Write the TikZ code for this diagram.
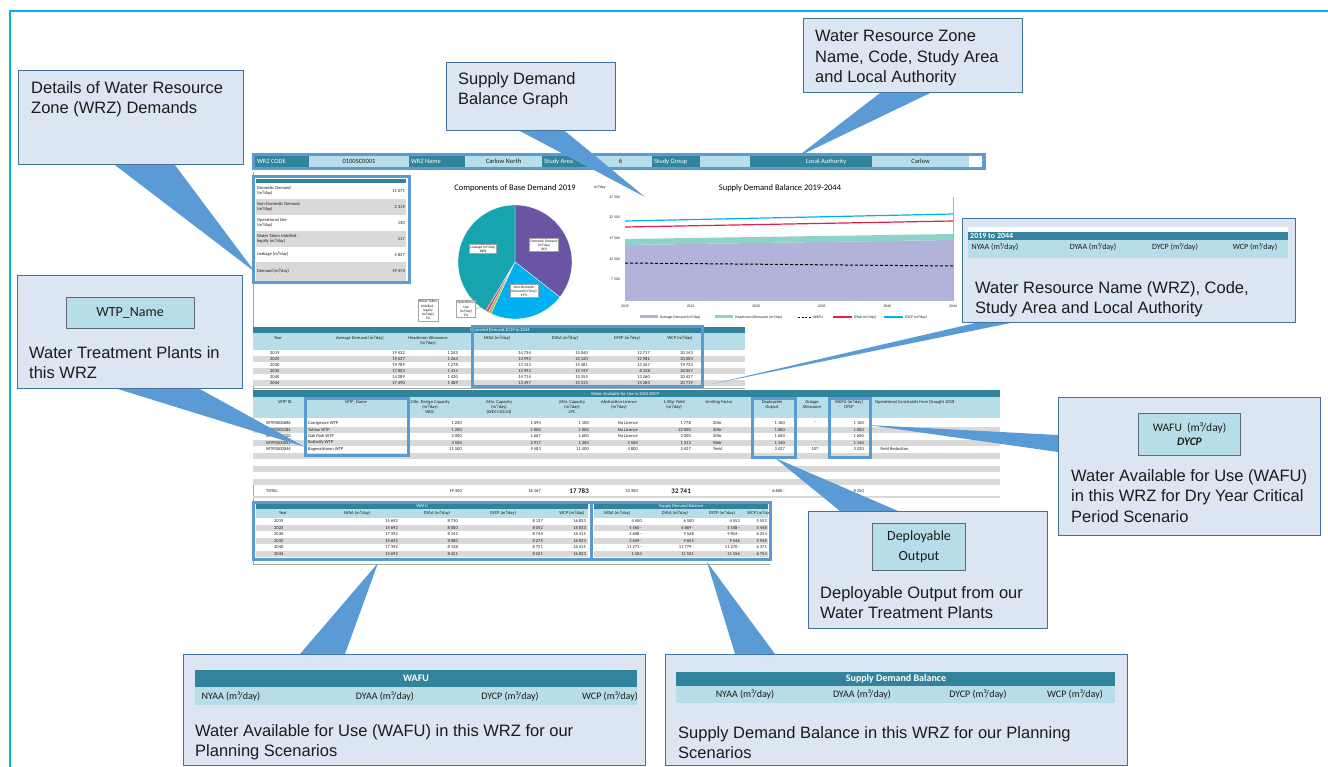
\documentclass[tikz,border=0pt]{standalone}
\usepackage{fontspec}
\setmainfont{Liberation Sans}
\newfontfamily\calib{Carlito}
\usetikzlibrary{positioning}
\definecolor{framecyan}{HTML}{00B0F0}
\definecolor{callfill}{HTML}{DCE6F2}
\definecolor{callline}{HTML}{41719C}
\definecolor{pointblue}{HTML}{5B9BD5}
\definecolor{tealdark}{HTML}{31849B}
\definecolor{tealpale}{HTML}{B7DEE8}
\definecolor{rowgrey}{HTML}{D9D9D9}
\definecolor{ink}{HTML}{1B1B1B}
\definecolor{tagline}{HTML}{5A6A78}
\definecolor{piepurple}{HTML}{6A55A5}
\definecolor{pieblue}{HTML}{00B0F0}
\definecolor{pieteal}{HTML}{16A5AF}
\definecolor{piegreen}{HTML}{8DC63F}
\definecolor{piepink}{HTML}{E63E7A}
\definecolor{areapurple}{HTML}{B1B3DB}
\definecolor{areateal}{HTML}{8ED3CB}
\definecolor{linered}{HTML}{E0204A}
\newcommand{\sheetfont}{\calib\fontsize{4.5}{5}\selectfont}
\newcommand{\tagfont}{\calib\fontsize{14}{20}\selectfont}
\tikzset{
  callbox/.style={draw=callline, fill=callfill, line width=1.1pt, inner sep=0pt, anchor=north west},
  calltext/.style={align=left, inner sep=0pt, text=ink, font=\fontsize{16.5}{20.5}\selectfont},
  tagbox/.style={draw=tagline, fill=tealpale, line width=0.9pt, inner sep=0pt, align=center, text=ink},
  pointer/.style={fill=pointblue},
  hilite/.style={draw=pointblue, line width=3pt},
  sheettext/.style={inner sep=0pt, align=center, text=ink, font=\sheetfont},
  headtext/.style={inner sep=0pt, align=center, text=ink, font=\calib\fontsize{10}{12}\selectfont},
  pielabel/.style={draw=gray!70, fill=white, line width=0.3pt, inner sep=1pt, align=center, text=ink, font=\calib\fontsize{3.6}{4.2}\selectfont},
}

\begin{document}
\begin{tikzpicture}[x=1pt,y=-1pt]
\useasboundingbox (0,0) rectangle (1328,767);
\draw[framecyan, line width=2pt] (10,767) -- (10,11) -- (1328,11);

% ---- the sheet ----
\draw[gray!70, line width=0.8pt] (253,172) -- (253,564) -- (770,564);

% WRZ strip
\fill[pointblue] (252,153) rectangle (986,170);
\fill[white] (969,156) rectangle (982,167);
\foreach \xa/\xb/\xt/\txt in {255/309/257/WRZ CODE, 409/465/411/WRZ Name, 542/589/544/Study Area, 652/700/654/Study Group, 750/872/806/Local Authority}{
  \fill[tealdark] (\xa,156) rectangle (\xb,167);
  \node[sheettext, text=white, anchor=west, font=\calib\fontsize{6.5}{7}\selectfont] (top-\xa) at (\xt,161.5) {\txt};
}
\foreach \xa/\xb/\txt in {309/409/0100SC0001, 465/542/Carlow North, 589/652/6, 700/750/{}, 872/969/Carlow}{
  \fill[tealpale] (\xa,156) rectangle (\xb,167);
  \pgfmathsetmacro{\xm}{(\xa+\xb)/2}
  \node[sheettext, font=\calib\fontsize{6.5}{7}\selectfont] (top-\xa) at (\xm,161.5) {\txt};
}

% demands
\fill[white] (253,177) rectangle (409,283);
\fill[tealdark] (256,179) rectangle (406,183);
\foreach \ya/\yb/\col/\lbl/\val in {183/199/white/{Domestic Demand\\(m³/day)}/{11 071}, 199/215/rowgrey/{Non-Domestic Demand\\(m³/day)}/{2 319}, 215/231/white/{Operational Use\\(m³/day)}/130, 231/247/rowgrey/{Water Taken Unbilled -\\legally (m³/day)}/117, 247/262/white/{Leakage (m³/day)}/{5 837}, 262/281/rowgrey/{Demand (m³/day)}/{19 474}}{
  \fill[\col] (256,\ya) rectangle (406,\yb);
  \node[sheettext, anchor=west, align=left] (dm-\ya) at (257,\ya/2+\yb/2) {\lbl};
  \node[sheettext, anchor=east] (dv-\ya) at (405,\ya/2+\yb/2) {\val};
}
\draw[hilite] (253,177) rectangle (409,283);

% pie
\node[inner sep=0pt, font=\calib\fontsize{8.5}{10}\selectfont] (pie-title) at (515,188) {Components of Base Demand 2019};
\begin{scope}[shift={(515,262)}]
  \def\pr{57}
  \foreach \a/\b/\col in {-90/38/piepurple, 38/115/pieblue, 115/118/piegreen, 118/121/piepink, 121/270/pieteal}
    \fill[\col, draw=white, line width=0.3pt] (0,0) -- (\a:\pr) arc[start angle=\a, end angle=\b, radius=\pr] -- cycle;
\end{scope}
\node[pielabel] (pie-dom) at (544,245) {Domestic Demand\\(m³/day)\\36\%};
\node[pielabel] (pie-leak) at (483,249) {Leakage (m³/day)\\\textbf{42\%}};
\node[pielabel] (pie-ndom) at (524,291) {Non-Domestic\\Demand (m³/day)\\19\%};
\node[pielabel] (pie-wtu) at (428,310) {Water Taken\\Unbilled -\\legally\\(m³/day)\\1\%};
\node[pielabel] (pie-opu) at (466,309) {Operational\\Use\\(m³/day)\\1\%};
\coordinate (pie-op) at (492,303);
\draw[gray, line width=0.3pt] (pie-opu.east) -- (pie-op);

% supply demand chart
\node[inner sep=0pt, font=\calib\fontsize{8.5}{10}\selectfont] (ch-title) at (780,188) {Supply Demand Balance 2019-2044};
\node[sheettext, font=\calib\fontsize{4}{4.5}\selectfont] (ch-unit) at (600,187) {m³/day};
\fill[areapurple] (625,301) -- (625,245) -- (953,240) -- (953,301) -- cycle;
\fill[areateal] (625,245) -- (953,240) -- (953,234) -- (625,239) -- cycle;
\draw[black, line width=1pt, dash pattern=on 3pt off 2pt] (625,263) -- (953,266);
\draw[linered, line width=1.2pt] (625,227) -- (953,221);
\draw[pieblue, line width=1.2pt] (625,221) -- (953,214);
\draw[gray!60, line width=0.5pt] (953,197) -- (953,301);
\foreach \i/\lab in {0/{27 500}, 1/{22 500}, 2/{17 500}, 3/{12 500}, 4/{7 500}}
  \node[sheettext, anchor=east, font=\calib\fontsize{3.8}{4}\selectfont] (ch-y\i) at (620,197+\i*20.6) {\lab};
\foreach \i/\yr in {0/2019, 1/2025, 2/2030, 3/2035, 4/2040, 5/2044}
  \node[sheettext, anchor=north, font=\calib\fontsize{3.8}{4}\selectfont] (ch-x\i) at (625+\i*65.6,305) {\yr};
\foreach \xa/\xb/\col/\txt in {640/658/areapurple/{Average Demand (m³/day)}, 715/733/areateal/{Headroom Allowance (m³/day)}}{
  \fill[\col] (\xa,315.5) rectangle (\xb,318.5);
  \node[sheettext, anchor=west, font=\calib\fontsize{3.8}{4}\selectfont] (lg-\xa) at (\xb+2,317) {\txt};
}
\draw[black, line width=0.9pt, dash pattern=on 2pt off 1.5pt] (798,317) -- (811,317);
\node[sheettext, anchor=west, font=\calib\fontsize{3.8}{4}\selectfont] (lg-wafu) at (813,317) {WAFU};
\draw[linered, line width=1.2pt] (833,317) -- (852,317);
\node[sheettext, anchor=west, font=\calib\fontsize{3.8}{4}\selectfont] (lg-dyaa) at (854,317) {DYAA (m³/day)};
\draw[pieblue, line width=1.2pt] (884,317) -- (903,317);
\node[sheettext, anchor=west, font=\calib\fontsize{3.8}{4}\selectfont] (lg-dycp) at (905,317) {DYCP (m³/day)};

% projected demand
\fill[tealdark] (253,327) rectangle (745,333);
\node[sheettext, text=white] (pd-title) at (500,330) {Projected Demand 2019 to 2044};
\fill[tealpale] (253,333) rectangle (745,350);
\foreach \x/\txt in {278/Year, 360/{Average Demand (m³/day)}, 428/{Headroom Allowance\\(m³/day)}, 497/{NYAA (m³/day)}, 565/{DYAA (m³/day)}, 627/{DYCP (m³/day)}, 680/{WCP (m³/day)}}
  \node[sheettext, anchor=north] (pd-h\x) at (\x,336) {\txt};
\foreach \i/\col/\yr/\va/\vb/\vc/\vd/\ve/\vf in {0/white/2019/{19 432}/{1 243}/{14 734}/{15 040}/{12 717}/{20 143}, 1/rowgrey/2025/{19 627}/{1 264}/{13 993}/{15 120}/{12 981}/{20 004}, 2/white/2030/{19 789}/{1 278}/{13 133}/{15 481}/{13 267}/{19 733}, 3/rowgrey/2035/{17 003}/{1 414}/{13 993}/{15 749}/{8 128}/{20 057}, 4/white/2040/{14 289}/{1 420}/{14 714}/{15 555}/{13 260}/{20 427}, 5/rowgrey/2044/{17 490}/{1 489}/{13 497}/{15 315}/{14 284}/{20 719}}{
  \pgfmathsetmacro{\ry}{350+\i*6}
  \fill[\col] (253,\ry) rectangle (745,\ry+6);
  \node[sheettext, anchor=west] (pd-y\i) at (270,\ry+3) {\yr};
  \node[sheettext, anchor=east] (pd-a\i) at (405,\ry+3) {\va};
  \node[sheettext, anchor=east] (pd-b\i) at (458,\ry+3) {\vb};
  \node[sheettext, anchor=east] (pd-c\i) at (531,\ry+3) {\vc};
  \node[sheettext, anchor=east] (pd-d\i) at (588,\ry+3) {\vd};
  \node[sheettext, anchor=east] (pd-e\i) at (650,\ry+3) {\ve};
  \node[sheettext, anchor=east] (pd-f\i) at (693,\ry+3) {\vf};
}
\draw[gray!70, line width=0.8pt] (253,388) -- (745,388);
\draw[hilite] (472,327) rectangle (702,386);

% water available
\fill[tealdark] (253,390) rectangle (1000,397);
\node[sheettext, text=white] (wa-title) at (625,393.5) {Water Available for Use in 2044 DYCP};
\fill[tealpale] (253,397) rectangle (1000,418);
\foreach \x/\txt in {285/WTP ID, 356/WTP\_Name, 430/{24hr. Design Capacity\\(m³/day)\\WDC}, 499/{24hr. Capacity\\(m³/day)\\(WDC×20/24)}, 572/{24hr. Capacity\\(m³/day)\\LPC}, 619/{Abstraction Licence\\(m³/day)}, 674/{1:50yr Yield\\(m³/day)}, 719/Limiting Factor, 772/{Deployable\\Output}, 812/{Outage\\Allowance}, 849/{WAFU (m³/day)\\DYCP}}
  \node[sheettext, anchor=north] (wa-h\x) at (\x,400) {\txt};
\node[sheettext, anchor=north west] (wa-hop) at (875,400) {Operational Constraints from Drought 2018};
\foreach \i/\col/\id/\nme/\dc/\ca/\cb/\lic/\yld/\lim/\dpo/\out/\waf/\opc in {0/white/WTP0000686/Carrigmore WTP/{1 200}/{1 094}/{1 100}/No Licence/{1 778}/20hr/{1 100}/-/{1 100}/{}, 1/rowgrey/WTP0000184/Tullow WTP/{1 200}/{1 000}/{1 000}/No Licence/{22 000}/20hr/{1 000}/{}/{1 000}/{}, 2/white/WTP0000220/Oak Park WTP/{2 000}/{1 667}/{1 600}/No Licence/{2 000}/20hr/{1 600}/{}/{1 600}/{}, 3/rowgrey/WTP0000053/Rathvilly WTP/{3 500}/{2 917}/{1 200}/{5 500}/{1 313}/Weir/{1 140}/-/{1 140}/{}, 4/white/WTP0000044/Bagenalstown WTP/{11 500}/{9 583}/{11 500}/{4 800}/{3 427}/Yield/{3 427}/107/{3 320}/Yield Reduction}{
  \pgfmathsetmacro{\ry}{420+\i*6.5}
  \fill[\col] (253,\ry) rectangle (1000,\ry+6.5);
  \node[sheettext, anchor=west] (wa-id\i) at (266,\ry+3.25) {\id};
  \node[sheettext, anchor=west] (wa-nm\i) at (308,\ry+3.25) {\nme};
  \node[sheettext, anchor=east] (wa-dc\i) at (462,\ry+3.25) {\dc};
  \node[sheettext, anchor=east] (wa-ca\i) at (541,\ry+3.25) {\ca};
  \node[sheettext, anchor=east] (wa-cb\i) at (589,\ry+3.25) {\cb};
  \node[sheettext, anchor=east] (wa-li\i) at (638,\ry+3.25) {\lic};
  \node[sheettext, anchor=east] (wa-yd\i) at (691,\ry+3.25) {\yld};
  \node[sheettext, anchor=west] (wa-lf\i) at (713,\ry+3.25) {\lim};
  \node[sheettext, anchor=east] (wa-do\i) at (785,\ry+3.25) {\dpo};
  \node[sheettext] (wa-ou\i) at (815,\ry+3.25) {\out};
  \node[sheettext, anchor=east] (wa-wf\i) at (864,\ry+3.25) {\waf};
  \node[sheettext, anchor=west] (wa-op\i) at (880,\ry+3.25) {\opc};
}
\foreach \i/\col in {5/rowgrey, 6/white, 7/rowgrey, 8/white, 9/rowgrey}{
  \pgfmathsetmacro{\ry}{420+\i*6.5}
  \fill[\col] (253,\ry) rectangle (1000,\ry+6.5);
}
\fill[rowgrey] (253,496) rectangle (1000,498);
\node[sheettext, anchor=west] (wa-tot) at (266,491) {TOTAL};
\node[sheettext, anchor=east] (wa-tdc) at (462,491) {19 400};
\node[sheettext, anchor=east] (wa-tca) at (541,491) {16 167};
\node[sheettext, anchor=east, font=\calib\bfseries\fontsize{7}{7}\selectfont] (wa-tcb) at (589,491) {17 783};
\node[sheettext, anchor=east] (wa-tli) at (638,491) {33 300};
\node[sheettext, anchor=east, font=\calib\bfseries\fontsize{7}{7}\selectfont] (wa-tyd) at (691,491) {32 741};
\node[sheettext, anchor=east] (wa-tdo) at (785,491) {6 600 -};
\node[sheettext, anchor=east] (wa-twf) at (864,491) {8 250};
\draw[hilite] (305,398) rectangle (408,455);
\draw[hilite] (752,398) rectangle (795,457);
\draw[hilite] (829,398) rectangle (870,457);

% WAFU and supply demand balance tables
\foreach \xa/\xb/\nm/\ttl in {256/588/wf/WAFU, 594/768/sd/Supply Demand Balance}{
  \fill[white] (\xa,504) rectangle (\xb,557);
  \fill[tealdark] (\xa,504) rectangle (\xb,509);
  \node[sheettext, text=white] (\nm-title) at (\xa/2+\xb/2,506.5) {\ttl};
  \fill[tealpale] (\xa,509) rectangle (\xb,518);
  \foreach \i/\col in {1/rowgrey, 3/rowgrey, 5/rowgrey}
    \fill[\col] (\xa,518+\i*6.5) rectangle (\xb,524.5+\i*6.5);
}
\foreach \x/\txt in {283/Year, 357/{NYAA (m³/day)}, 437/{DYAA (m³/day)}, 503/{DYCP (m³/day)}, 572/{WCP (m³/day)}}
  \node[sheettext] (wf-h\x) at (\x,513.5) {\txt};
\foreach \x/\txt in {617/{NYAA (m³/day)}, 675/{DYAA (m³/day)}, 722/{DYCP (m³/day)}, 760/{WCP (m³/day)}}
  \node[sheettext] (sd-h\x) at (\x,513.5) {\txt};
\foreach \i/\yr/\na/\da/\dc/\wc/\sa/\sb/\sc/\sw in {0/2019/{15 692}/{8 730}/{8 137}/{16 833}/{4 500}/{6 500}/{4 553}/{5 553}, 1/2025/{15 692}/{8 000}/{8 052}/{16 833}/{4 560 -}/{6 869 -}/{4 548 -}/{5 448}, 2/2030/{17 392}/{8 142}/{8 744}/{16 415}/{4 608 -}/{9 548}/{9 854 -}/{6 254}, 3/2035/{15 692}/{8 080}/{8 275}/{16 833}/{2 649 -}/{9 655}/{9 546}/{5 948}, 4/2040/{17 392}/{8 138}/{8 751}/{16 415}/{11 271 -}/{11 779 -}/{11 270 -}/{6 371}, 5/2044/{15 692}/{8 421}/{8 521}/{16 833}/{1 504}/{11 531}/{11 556}/{6 754}}{
  \pgfmathsetmacro{\ry}{521.25+\i*6.5}
  \node[sheettext, anchor=west] (wf-y\i) at (274,\ry) {\yr};
  \node[sheettext, anchor=east] (wf-n\i) at (398,\ry) {\na};
  \node[sheettext, anchor=east] (wf-d\i) at (458,\ry) {\da};
  \node[sheettext, anchor=east] (wf-c\i) at (543,\ry) {\dc};
  \node[sheettext, anchor=east] (wf-w\i) at (586,\ry) {\wc};
  \node[sheettext, anchor=east] (sd-n\i) at (642,\ry) {\sa};
  \node[sheettext, anchor=east] (sd-d\i) at (694,\ry) {\sb};
  \node[sheettext, anchor=east] (sd-c\i) at (740,\ry) {\sc};
  \node[sheettext, anchor=east] (sd-w\i) at (767,\ry) {\sw};
}
\draw[hilite] (253,502) rectangle (591,559);
\draw[hilite] (591,502) rectangle (770,559);

% ---- callouts ----
\foreach \nm/\x/\y/\w/\h in {dem/18/70/225/94, sdg/446/62/169/68, wrz/803/18/219/74, rng/962/218/333/104, wtp/17/275/225/113, dycp/1058/397/262/138, dep/808/511/239/117, wafu/183/654/462/111, sdb/665/654/462/111}
  \node[callbox, minimum width=\w, minimum height=\h] (\nm) at (\x,\y) {};

\coordinate (dem-tip) at (255,272);
\coordinate (sdg-tip) at (645,197);
\coordinate (wrz-tip) at (797,157);
\coordinate (rng-tip) at (712,384);
\coordinate (wtp-tip) at (305,447);
\coordinate (dep-tip) at (775,458);
\coordinate (wafu-tip) at (378,563);
\coordinate (sdb-tip) at (707,562);
\coordinate (dycp-tip) at (868,425);
\foreach \nm/\anc/\da/\db in {dem/south west/97/157, sdg/south west/74/119, wrz/south west/77/127, rng/south west/13/48, wtp/south west/101/183, dep/north west/32/90, wafu/north west/117/162, sdb/north west/70/110}
  \fill[pointer] ([xshift=\da pt]\nm.\anc) -- ([xshift=\db pt]\nm.\anc) -- (\nm-tip) -- cycle;
\fill[pointer] ([yshift=-38pt]dycp.north west) -- ([yshift=-55pt]dycp.north west) -- (dycp-tip) -- cycle;

\foreach \nm/\dy/\dx/\txt in {dem/11pt/13pt/{Details of Water Resource\\Zone (WRZ) Demands}, sdg/10pt/12pt/{Supply Demand\\Balance Graph}, wrz/12pt/12pt/{Water Resource Zone\\Name, Code, Study Area\\and Local Authority}, rng/63pt/13pt/{Water Resource Name (WRZ), Code,\\Study Area and Local Authority}, wtp/71pt/12pt/{Water Treatment Plants in\\this WRZ}, dycp/72pt/13pt/{Water Available for Use (WAFU)\\in this WRZ for Dry Year Critical\\Period Scenario}, dep/75pt/12pt/{Deployable Output from our\\Water Treatment Plants}, wafu/70pt/12pt/{Water Available for Use (WAFU) in this WRZ for our\\Planning Scenarios}, sdb/72pt/13pt/{Supply Demand Balance in this WRZ for our Planning\\Scenarios}}
  \node[calltext, below right=\dy and \dx of \nm.north west] (\nm-txt) {\txt};

% tags inside the callouts
\node[tagbox, minimum width=128, minimum height=31, font=\tagfont, below=22pt of wtp.north] (wtp-tag) {WTP\_Name};
\node[tagbox, minimum width=102, minimum height=42, font=\calib\fontsize{11.5}{14}\selectfont, below=16pt of dycp.north] (dycp-tag) {WAFU\ \ (m³/day)\\\textbf{\textit{DYCP}}};
\node[tagbox, minimum width=93, minimum height=47, font=\tagfont, below=12pt of dep.north, xshift=-9pt] (dep-tag) {Deployable\\Output};

% small tables inside the callouts
\fill[white] (968,227) rectangle (1288,232);
\fill[tealdark] (968,232) rectangle (1288,240);
\fill[tealpale] (968,240) rectangle (1288,258);
\node[inner sep=0pt, anchor=west, text=white, font=\calib\bfseries\fontsize{8}{9}\selectfont] (rng-yrs) at (970,236) {2019 to 2044};
\foreach \x/\txt in {995/NYAA, 1093/DYAA, 1175/DYCP, 1255/WCP}
  \node[inner sep=0pt, text=ink, font=\calib\fontsize{8}{9}\selectfont] (rng-\txt) at (\x,247) {\txt\ (m³/day)};

\fill[tealdark] (195,670) rectangle (637,687);
\fill[tealpale] (195,687) rectangle (637,705);
\node[inner sep=0pt, text=white, font=\calib\bfseries\fontsize{10}{12}\selectfont] (wafu-ttl) at (416,678.5) {WAFU};
\foreach \x/\txt in {231/NYAA, 385/DYAA, 510/DYCP, 610/WCP}
  \node[headtext] (wafu-\txt) at (\x,696) {\txt\ (m³/day)};

\fill[tealdark] (676,672) rectangle (1115,686);
\fill[tealpale] (676,686) rectangle (1115,703);
\node[inner sep=0pt, text=white, font=\calib\bfseries\fontsize{10}{12}\selectfont] (sdb-ttl) at (896,679) {Supply Demand Balance};
\foreach \x/\txt in {745/NYAA, 862/DYAA, 978/DYCP, 1075/WCP}
  \node[headtext] (sdb-\txt) at (\x,694) {\txt\ (m³/day)};
\end{tikzpicture}
\end{document}
